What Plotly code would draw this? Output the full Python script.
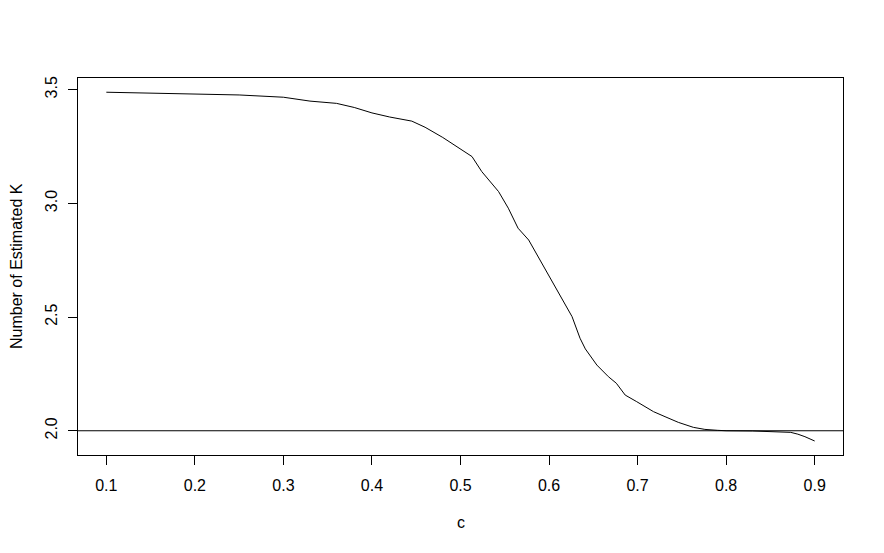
import plotly.graph_objects as go

c_vals = [0.10, 0.15, 0.20, 0.25, 0.30, 0.33, 0.36, 0.38, 0.40, 0.42, 0.445, 0.46,
          0.48, 0.50, 0.513, 0.524, 0.543, 0.554, 0.565, 0.577, 0.595, 0.607, 0.618,
          0.626, 0.635, 0.641, 0.654, 0.667, 0.676, 0.686, 0.699, 0.708, 0.718, 0.731,
          0.746, 0.763, 0.776, 0.79, 0.80, 0.83, 0.855, 0.873, 0.881, 0.889, 0.90]
k_vals = [3.489, 3.486, 3.482, 3.477, 3.467, 3.450, 3.440, 3.422, 3.398, 3.380, 3.362, 3.335,
          3.290, 3.240, 3.206, 3.140, 3.052, 2.979, 2.891, 2.839, 2.715, 2.634, 2.561,
          2.502, 2.407, 2.360, 2.289, 2.238, 2.209, 2.157, 2.128, 2.106, 2.084, 2.062,
          2.037, 2.015, 2.006, 2.002, 2.000, 1.999, 1.995, 1.993, 1.985, 1.974, 1.955]
ref_line = 2.0
x_ticks = [0.1, 0.2, 0.3, 0.4, 0.5, 0.6, 0.7, 0.8, 0.9]
y_ticks = [2.0, 2.5, 3.0, 3.5]
y_tick_text = ["2.0", "2.5", "3.0", "3.5"]

font = "Liberation Sans, Arial, sans-serif"

# page body has an 8px default margin; figure sized/margined to compensate
fig = go.Figure()
fig.add_trace(go.Scatter(x=c_vals, y=k_vals, mode="lines",
                         line=dict(color="black", width=1), showlegend=False,
                         hoverinfo="skip"))
fig.add_hline(y=ref_line, line=dict(color="black", width=1))

fig.update_layout(
    width=876, height=545,
    margin=dict(l=70, r=41, t=70, b=98),
    paper_bgcolor="white", plot_bgcolor="white",
    font=dict(family=font, size=16, color="black"),
    xaxis=dict(range=[0.068, 0.932], tickvals=x_ticks, ticktext=[str(v) for v in x_ticks],
               showgrid=False, zeroline=False, showline=True, mirror=True,
               linecolor="black", linewidth=1, ticks="outside", ticklen=9,
               tickcolor="black", ticklabelstandoff=7),
    yaxis=dict(range=[1.8934, 3.5516], tickvals=y_ticks, ticktext=y_tick_text,
               tickangle=-90,
               showgrid=False, zeroline=False, showline=True, mirror=True,
               linecolor="black", linewidth=1, ticks="outside", ticklen=9,
               tickcolor="black", ticklabelstandoff=5),
    annotations=[
        dict(text="c", xref="paper", yref="paper", x=0.5, y=(455 - 522) / 377,
             xanchor="center", yanchor="middle", showarrow=False,
             font=dict(family=font, size=16)),
        dict(text="Number of Estimated K", xref="paper", yref="paper",
             x=(16.5 - 78) / 765, y=(455 - 266.5) / 377, textangle=-90,
             xanchor="center", yanchor="middle", showarrow=False,
             font=dict(family=font, size=16)),
    ],
)

fig.write_html("out.html")
